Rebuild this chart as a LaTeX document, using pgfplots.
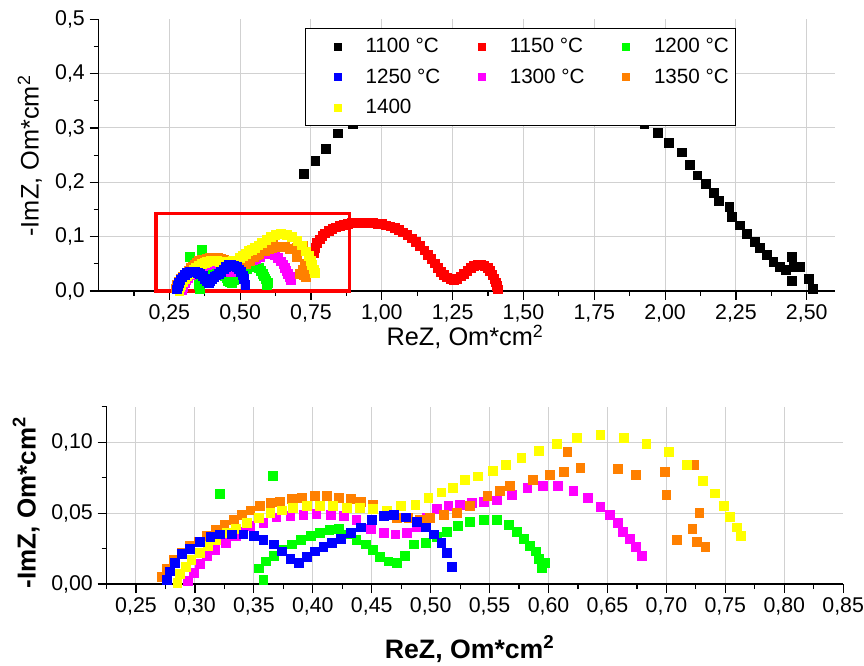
\documentclass[border=0pt]{standalone}
\usepackage{fontspec}
\setmainfont{Liberation Sans}
\usepackage{pgfplots}
\usepackage{pgfplotstable}
\pgfplotsset{compat=1.18}
\definecolor{cGreen}{RGB}{0,255,0}
\definecolor{cBlue}{RGB}{0,0,255}
\definecolor{cMag}{RGB}{255,0,255}
\definecolor{cOrange}{RGB}{255,128,0}
\definecolor{cYellow}{RGB}{255,255,0}
\definecolor{cRed}{RGB}{255,0,0}

\pgfplotstableread{
x y
0.726 0.215
0.765 0.239
0.803 0.262
0.844 0.290
0.897 0.308
0.95 0.33
1.02 0.36
1.12 0.40
1.24 0.43
1.37 0.45
1.50 0.455
1.63 0.445
1.75 0.41
1.84 0.36
1.89 0.33
1.927 0.308
1.974 0.291
2.012 0.272
2.059 0.255
2.086 0.232
2.114 0.213
2.145 0.197
2.171 0.181
2.189 0.166
2.227 0.155
2.236 0.137
2.265 0.121
2.288 0.105
2.318 0.091
2.333 0.079
2.359 0.066
2.382 0.054
2.406 0.045
2.425 0.039
2.448 0.063
2.453 0.045
2.476 0.045
2.447 0.018
2.506 0.023
2.521 0.004
}\tA

\pgfplotstableread{
x y
0.760 0.070
0.765 0.080
0.772 0.088
0.780 0.095
0.790 0.101
0.800 0.106
0.812 0.110
0.825 0.114
0.838 0.117
0.852 0.120
0.866 0.122
0.880 0.124
0.895 0.125
0.910 0.126
0.925 0.126
0.940 0.126
0.955 0.126
0.970 0.125
0.985 0.124
1.000 0.123
1.015 0.121
1.030 0.119
1.045 0.116
1.060 0.112
1.075 0.108
1.090 0.103
1.105 0.097
1.120 0.090
1.135 0.083
1.150 0.075
1.163 0.067
1.175 0.059
1.187 0.051
1.198 0.043
1.208 0.036
1.218 0.030
1.230 0.025
1.242 0.022
1.254 0.021
1.266 0.023
1.278 0.027
1.290 0.032
1.302 0.037
1.314 0.042
1.326 0.046
1.338 0.048
1.350 0.049
1.362 0.047
1.373 0.043
1.382 0.037
1.390 0.030
1.397 0.023
1.402 0.016
1.406 0.009
1.409 0.003
}\tB

\pgfplotstableread{
x y
0.321 0.0635
0.366 0.0764
0.358 0.003
0.354 0.011
0.360 0.016
0.367 0.020
0.374 0.024
0.382 0.028
0.390 0.031
0.398 0.034
0.406 0.036
0.414 0.038
0.422 0.039
0.430 0.035
0.437 0.031
0.445 0.028
0.451 0.024
0.457 0.019
0.464 0.016
0.471 0.015
0.478 0.020
0.486 0.028
0.496 0.029
0.505 0.033
0.514 0.037
0.523 0.041
0.533 0.044
0.545 0.045
0.556 0.045
0.566 0.042
0.573 0.037
0.579 0.032
0.584 0.027
0.589 0.023
0.592 0.018
0.597 0.015
0.594 0.011
}\tC

\pgfplotstableread{
x y
0.276 0.003
0.279 0.009
0.283 0.015
0.289 0.021
0.296 0.025
0.304 0.030
0.313 0.033
0.321 0.035
0.331 0.035
0.341 0.035
0.350 0.034
0.358 0.031
0.367 0.028
0.374 0.023
0.381 0.018
0.388 0.015
0.395 0.019
0.402 0.023
0.409 0.026
0.416 0.029
0.424 0.032
0.432 0.036
0.441 0.040
0.450 0.045
0.460 0.048
0.469 0.049
0.479 0.047
0.488 0.044
0.496 0.040
0.503 0.035
0.509 0.029
0.514 0.022
0.518 0.012
}\tD

\pgfplotstableread{
x y
0.294 0.002
0.299 0.008
0.304 0.014
0.310 0.020
0.317 0.024
0.326 0.029
0.335 0.034
0.341 0.037
0.347 0.041
0.358 0.043
0.369 0.047
0.381 0.048
0.392 0.049
0.403 0.0496
0.415 0.049
0.426 0.048
0.437 0.045
0.449 0.039
0.460 0.036
0.470 0.035
0.480 0.036
0.488 0.040
0.497 0.047
0.505 0.053
0.515 0.055
0.525 0.056
0.535 0.057
0.545 0.058
0.556 0.059
0.569 0.063
0.582 0.068
0.595 0.069
0.608 0.069
0.621 0.066
0.633 0.061
0.644 0.0545
0.652 0.049
0.659 0.043
0.663 0.037
0.669 0.032
0.674 0.026
0.679 0.020
}\tE

\pgfplotstableread{
x y
0.272 0.005
0.276 0.011
0.282 0.017
0.289 0.022
0.296 0.027
0.303 0.030
0.310 0.034
0.318 0.038
0.325 0.042
0.333 0.045
0.340 0.049
0.347 0.052
0.355 0.055
0.364 0.057
0.372 0.058
0.382 0.060
0.391 0.061
0.402 0.062
0.412 0.062
0.422 0.061
0.432 0.060
0.441 0.058
0.451 0.056
0.463 0.051
0.471 0.0465
0.481 0.0465
0.491 0.045
0.499 0.0465
0.511 0.049
0.522 0.050
0.533 0.055
0.548 0.062
0.559 0.066
0.567 0.069
0.587 0.0735
0.601 0.077
0.613 0.079
0.616 0.093
0.627 0.082
0.659 0.081
0.674 0.077
0.699 0.079
0.700 0.063
0.723 0.084
0.728 0.050
0.722 0.039
0.709 0.031
0.726 0.030
0.733 0.026
}\tF

\pgfplotstableread{
x y
0.285 0.001
0.287 0.007
0.292 0.012
0.297 0.017
0.304 0.022
0.311 0.027
0.318 0.031
0.327 0.036
0.335 0.039
0.344 0.043
0.354 0.0465
0.364 0.050
0.374 0.052
0.383 0.054
0.395 0.055
0.406 0.055
0.417 0.055
0.429 0.054
0.440 0.0536
0.451 0.053
0.463 0.052
0.475 0.055
0.487 0.056
0.498 0.0606
0.509 0.0646
0.519 0.068
0.529 0.0736
0.540 0.076
0.553 0.080
0.564 0.084
0.577 0.089
0.592 0.094
0.607 0.099
0.624 0.103
0.644 0.105
0.664 0.103
0.683 0.099
0.702 0.093
0.717 0.084
0.731 0.073
0.741 0.064
0.749 0.055
0.754 0.0475
0.760 0.040
0.763 0.034
}\tG

\pgfplotsset{
  mk/.style={only marks, mark=square*, mark size=3.3pt, mark options={line width=0.5pt}},
  s1100/.style={mk, color=black},
  s1150/.style={mk, color=cRed},
  s1200/.style={mk, color=cGreen},
  s1250/.style={mk, color=cBlue},
  s1300/.style={mk, color=cMag},
  s1350/.style={mk, color=cOrange},
  s1400/.style={mk, color=cYellow},
  common/.style={
    scale only axis,
    anchor=south west,
    axis x line*=bottom, axis y line*=left,
    xtick pos=bottom, ytick pos=left,
    axis line style={-, line width=0.9pt, black},
    tick align=outside,
    major tick length=6.75pt, minor tick length=3.75pt,
    every tick/.style={black, line width=0.9pt},
    grid=major,
    grid style={color=black!18, line width=0.75pt},
    tick label style={font=\fontsize{16}{19}\selectfont},
    /pgf/number format/.cd, assume math mode=true, use comma, fixed, fixed zerofill,
    /pgfplots/.cd,
    scaled ticks=false,
    clip=false,
  }
}

\begin{document}
\begin{tikzpicture}
\useasboundingbox (0,0) rectangle (648pt,498.75pt);
% ---------- top panel ----------
\begin{axis}[common,
  at={(73.9pt,280.5pt)},
  width=552.4pt, height=203.8pt,
  xmin=0, xmax=2.6, ymin=0, ymax=0.5,
  xtick={0.25,0.5,...,2.5},
  minor xtick={0.125,0.375,...,2.4},
  ytick={0,0.1,...,0.4},
  extra y ticks={0.5},
  extra y tick style={grid=none},
  minor ytick={0.05,0.15,...,0.46},
  /pgf/number format/precision=1,
  xticklabel style={/pgf/number format/precision=2},
  legend columns=3,
  legend cell align=left,
  legend style={at={(axis description cs:0.2803,0.968)}, anchor=north west,
    draw=black, line width=0.8pt, fill=white,
    font=\fontsize{15.5}{18}\selectfont,
    inner xsep=5pt, inner ysep=5.5pt, row sep=6.5pt,
    nodes={inner xsep=0pt, inner ysep=2pt},
    /tikz/every even column/.append style={column sep=12pt}},
  legend image code/.code={\path[draw=none,fill=none] (0pt,-4pt) (40pt,4pt);
    \draw[#1, mark size=2.7pt, line width=0.4pt] plot coordinates {(19pt,0pt)};},
]
\addlegendimage{s1100}\addlegendentry{1100 °C}
\addlegendimage{s1150}\addlegendentry{1150 °C}
\addlegendimage{s1200}\addlegendentry{1200 °C}
\addlegendimage{s1250}\addlegendentry{1250 °C}
\addlegendimage{s1300}\addlegendentry{1300 °C}
\addlegendimage{s1350}\addlegendentry{1350 °C}
\addlegendimage{s1400}\addlegendentry{1400}
\addplot[s1100, forget plot] table {\tA};
\addplot[s1150, forget plot] table {\tB};
\addplot[s1200, forget plot] table {\tC};
\addplot[s1300, forget plot] table {\tE};
\addplot[s1350, forget plot] table {\tF};
\addplot[s1400, forget plot] table {\tG};
\addplot[s1250, forget plot] table {\tD};
\draw[cRed, line width=2.5pt] (axis cs:0.203,0) rectangle (axis cs:0.885,0.143);
\node[font=\fontsize{19}{22}\selectfont, anchor=base] at (axis description cs:0.4976,-0.202) {ReZ, Om*cm\textsuperscript{2}};
\node[font=\fontsize{19}{22}\selectfont, anchor=base, rotate=90] at (axis description cs:-0.0815,0.497) {-ImZ, Om*cm\textsuperscript{2}};
\end{axis}
% ---------- bottom panel ----------
\begin{axis}[common,
  at={(79.9pt,60.75pt)},
  width=552.5pt, height=132.9pt,
  xmin=0.225, xmax=0.85, ymin=0, ymax=0.125,
  xtick={0.25,0.3,...,0.81},
  extra x ticks={0.85},
  extra x tick style={grid=none},
  minor xtick={0.225,0.275,...,0.83},
  ytick={0,0.05,0.1},
  minor ytick={0.025,0.075,0.125},
  /pgf/number format/precision=2,
]
\addplot[s1200] table {\tC};
\addplot[s1300] table {\tE};
\addplot[s1350] table {\tF};
\addplot[s1400] table {\tG};
\addplot[s1250] table {\tD};
\node[font=\fontsize{20}{23}\selectfont\bfseries, anchor=base] at (axis description cs:0.493,-0.418) {ReZ, Om*cm\textsuperscript{2}};
\node[font=\fontsize{19.5}{22}\selectfont\bfseries, anchor=base, rotate=90] at (axis description cs:-0.0964,0.46) {-ImZ, Om*cm\textsuperscript{2}};
\end{axis}
\end{tikzpicture}
\end{document}
